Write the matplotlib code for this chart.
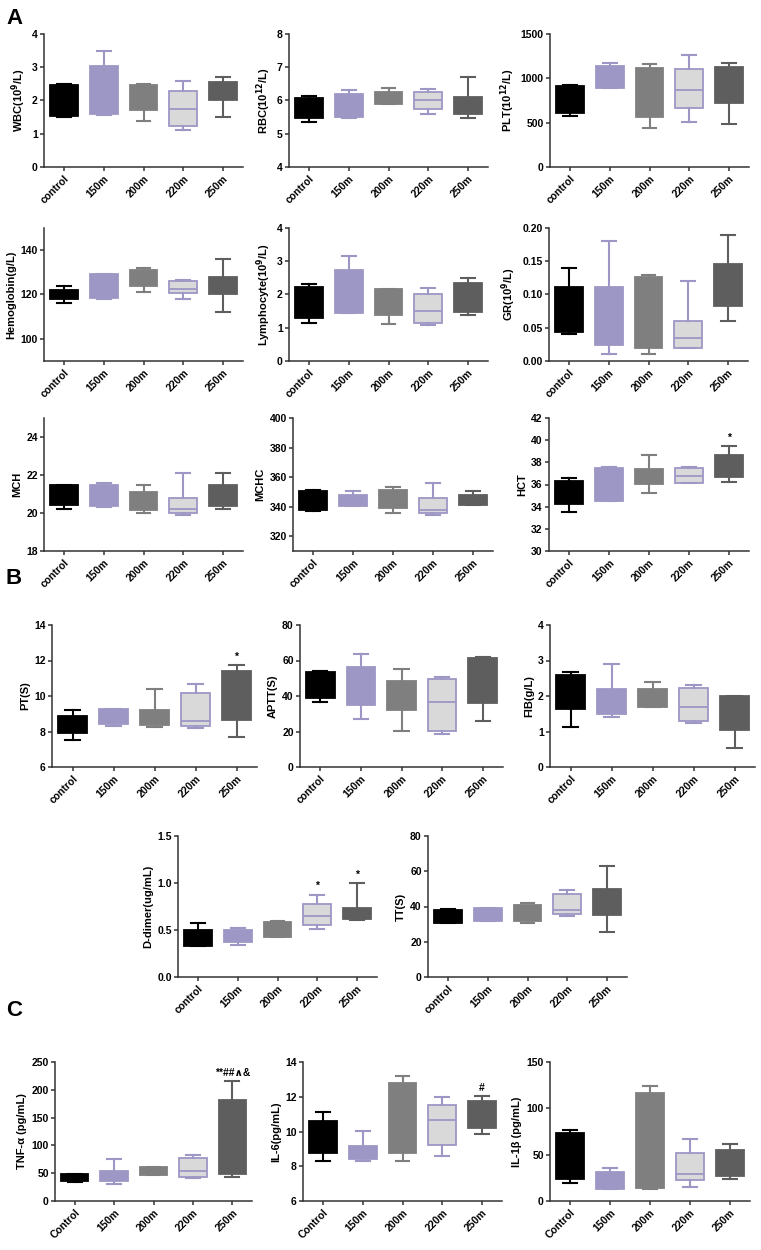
import matplotlib
matplotlib.use("Agg")
import matplotlib.pyplot as plt
from matplotlib.ticker import FormatStrFormatter

plt.rcParams['font.family'] = ['Liberation Sans', 'DejaVu Sans']
plt.rcParams['font.weight'] = 'bold'

groups = ['control', '150m', '200m', '220m', '250m']
groups_c = ['Control', '150m', '200m', '220m', '250m']

# (min, q1, median, q3, max) per group
wbc = [(1.49, 1.53, 2.0, 2.47, 2.5), (1.57, 1.58, 2.2, 3.05, 3.5), (1.39, 1.72, 2.2, 2.48, 2.5),
       (1.1, 1.24, 1.73, 2.3, 2.6), (1.5, 2.02, 2.3, 2.57, 2.7)]
rbc = [(5.35, 5.46, 5.8, 6.08, 6.13), (5.48, 5.5, 5.9, 6.19, 6.31), (5.88, 5.9, 6.1, 6.25, 6.37),
       (5.58, 5.75, 6.03, 6.27, 6.35), (5.47, 5.6, 5.8, 6.12, 6.72)]
plt_ = [(577, 612, 750, 913, 925), (893, 895, 1000, 1135, 1178), (440, 564, 850, 1113, 1162),
        (511, 670, 864, 1105, 1260), (485, 718, 950, 1128, 1178)]
hgb = [(116, 118, 120, 122, 124), (117.8, 118.2, 122, 129.2, 129.3), (121, 123.8, 127, 131, 132),
       (118, 120.8, 122.7, 126.2, 126.5), (112, 120.2, 124, 127.7, 136)]
lym = [(1.15, 1.28, 1.8, 2.23, 2.31), (1.43, 1.45, 2.0, 2.75, 3.17), (1.1, 1.38, 1.8, 2.16, 2.18),
       (1.07, 1.14, 1.5, 2.02, 2.21), (1.38, 1.47, 1.9, 2.35, 2.5)]
gr = [(0.04, 0.044, 0.08, 0.111, 0.14), (0.01, 0.024, 0.06, 0.111, 0.18), (0.01, 0.02, 0.07, 0.126, 0.13),
      (0.02, 0.02, 0.035, 0.06, 0.12), (0.06, 0.082, 0.11, 0.146, 0.19)]
mch = [(20.2, 20.41, 21.0, 21.47, 21.5), (20.3, 20.35, 21.0, 21.5, 21.6), (20.0, 20.18, 20.7, 21.1, 21.47),
       (19.9, 20.02, 20.2, 20.8, 22.1), (20.2, 20.37, 21.0, 21.47, 22.1)]
mchc = [(336.9, 337.8, 344, 350.6, 351.3), (340.5, 340.7, 344, 348.1, 350.3), (335.5, 338.9, 345, 351.3, 353.5),
        (334.4, 335.7, 338, 346.1, 356.2), (341, 341.1, 345, 348.1, 350.3)]
hct = [(33.5, 34.25, 35.5, 36.36, 36.57), (34.5, 34.55, 36, 37.48, 37.6), (35.25, 36.03, 36.6, 37.36, 38.7),
       (36.1, 36.13, 36.8, 37.45, 37.55), (36.2, 36.64, 37.5, 38.66, 39.5)]
pt = [(7.5, 7.9, 8.3, 8.85, 9.22), (8.3, 8.42, 8.8, 9.25, 9.25), (8.27, 8.36, 8.7, 9.23, 10.4),
      (8.2, 8.32, 8.6, 10.15, 10.7), (7.7, 8.66, 10.0, 11.43, 11.72)]
aptt = [(36.6, 38.8, 47, 53.8, 54.3), (27.3, 35, 46, 56.6, 63.8), (20.5, 32, 40, 48.7, 55),
        (18.7, 20.4, 36.4, 49.6, 50.8), (25.8, 36.2, 50, 61.3, 61.7)]
fib = [(1.12, 1.62, 2.1, 2.6, 2.68), (1.42, 1.49, 1.8, 2.2, 2.9), (1.68, 1.69, 2.0, 2.2, 2.4),
       (1.25, 1.3, 1.7, 2.23, 2.3), (0.53, 1.04, 1.5, 1.99, 2.0)]
ddimer = [(0.325, 0.335, 0.42, 0.5, 0.57), (0.34, 0.37, 0.45, 0.505, 0.52), (0.43, 0.43, 0.5, 0.585, 0.595),
          (0.515, 0.555, 0.645, 0.78, 0.87), (0.61, 0.615, 0.67, 0.735, 1.0)]
tt = [(30.6, 30.9, 34, 38.1, 38.5), (31.8, 31.9, 35, 38.9, 39.3), (30.9, 31.5, 36, 40.9, 42),
      (34.5, 35.8, 37.9, 47.2, 49.2), (25.3, 34.9, 42, 50, 62.8)]
tnf = [(35, 35.3, 42, 48.2, 48.8), (30.5, 35.9, 45, 54.8, 75.4), (46, 46.4, 55, 61.9, 62),
       (41.3, 43.7, 54.5, 76.6, 82.5), (43.7, 47.8, 110, 181, 216.5)]
il6 = [(8.28, 8.74, 9.6, 10.6, 11.1), (8.28, 8.42, 8.7, 9.17, 10.05), (8.28, 8.75, 10.5, 12.8, 13.2),
       (8.57, 9.24, 10.67, 11.55, 12.0), (9.85, 10.2, 11.0, 11.78, 12.04)]
il1b = [(19, 24, 50, 73.6, 76.4), (12.5, 12.6, 25, 31.2, 35.9), (12.9, 14, 60, 116.9, 124.1),
        (15, 22.2, 28.7, 51.7, 66.7), (23.3, 26.5, 40, 55, 62)]

face = ['#000000', '#9d97c6', '#7f7f7f', '#d9d9d9', '#5e5e5e']
edge = ['#000000', '#9d97c6', '#7f7f7f', '#9d97c6', '#5e5e5e']

fig = plt.figure(figsize=(7.61, 12.5), dpi=100)


def add_ax(l, t, r, b):
    return fig.add_axes([l / 761, 1 - b / 1250, (r - l) / 761, (b - t) / 1250])


def boxpanel(pos, data, ylabel, ylim, ticks, fmt, labels=groups, notes=None):
    ax = add_ax(*pos)
    for i, (lo, q1, med, q3, hi) in enumerate(data):
        st = [dict(whislo=lo, q1=q1, med=med, q3=q3, whishi=hi, fliers=[])]
        ax.bxp(st, positions=[i], widths=0.7, patch_artist=True, showfliers=False,
               capwidths=0.35,
               boxprops=dict(facecolor=face[i], edgecolor=edge[i], linewidth=1.3),
               medianprops=dict(color=edge[i], linewidth=1.3),
               whiskerprops=dict(color=edge[i], linewidth=1.5),
               capprops=dict(color=edge[i], linewidth=1.5))
    ax.set_xlim(-0.5, 4.5)
    ax.set_ylim(*ylim)
    ax.set_yticks(ticks)
    ax.yaxis.set_major_formatter(FormatStrFormatter(fmt))
    ax.set_xticks(range(5))
    ax.set_xticklabels(labels, rotation=45, ha='right', rotation_mode='anchor',
                       fontsize=7.5, fontweight='bold')
    for t in ax.get_yticklabels():
        t.set_fontsize(7.5)
        t.set_fontweight('bold')
    ax.set_ylabel(ylabel, fontsize=8, fontweight='bold', labelpad=3)
    for s in ['top', 'right']:
        ax.spines[s].set_visible(False)
    for s in ['left', 'bottom']:
        ax.spines[s].set_linewidth(1.1)
        ax.spines[s].set_color('#333333')
    ax.tick_params(direction='out', length=3, width=1.1, color='#333333', pad=1.5)
    if notes:
        for x, y, txt in notes:
            ax.text(x, y, txt, ha='center', va='center', fontsize=7.5, fontweight='bold')
    return ax


# panel A
boxpanel((44, 34, 243, 167), wbc, 'WBC(10$^{\\mathbf{9}}$/L)', (0, 4), [0, 1, 2, 3, 4], '%d')
boxpanel((289, 34, 488, 167), rbc, 'RBC(10$^{\\mathbf{12}}$/L)', (4, 8), [4, 5, 6, 7, 8], '%d')
boxpanel((550, 34, 749, 167), plt_, 'PLT(10$^{\\mathbf{12}}$/L)', (0, 1500), [0, 500, 1000, 1500], '%d')

boxpanel((44, 228, 243, 361), hgb, 'Hemoglobin(g/L)', (90, 150), [100, 120, 140], '%d')
boxpanel((289, 228, 488, 361), lym, 'Lymphocyte(10$^{\\mathbf{9}}$/L)', (0, 4), [0, 1, 2, 3, 4], '%d')
boxpanel((549, 228, 748, 361), gr, 'GR(10$^{\\mathbf{9}}$/L)', (0, 0.2), [0, 0.05, 0.1, 0.15, 0.2], '%.2f')

boxpanel((44, 418, 243, 551), mch, 'MCH', (18, 25), [18, 20, 22, 24], '%d')
boxpanel((293, 418, 493, 551), mchc, 'MCHC', (310, 400), [320, 340, 360, 380, 400], '%d')
boxpanel((549, 418, 749, 551), hct, 'HCT', (30, 42), [30, 32, 34, 36, 38, 40, 42], '%d',
         notes=[(4, 40.2, '*')])

# panel B
boxpanel((52, 625, 257, 767), pt, 'PT(S)', (6, 14), [6, 8, 10, 12, 14], '%d',
         notes=[(4, 12.2, '*')])
boxpanel((300, 625, 503, 767), aptt, 'APTT(S)', (0, 80), [0, 20, 40, 60, 80], '%d')
boxpanel((550, 625, 755, 767), fib, 'FIB(g/L)', (0, 4), [0, 1, 2, 3, 4], '%d')

boxpanel((178, 836, 377, 977), ddimer, 'D-dimer(ug/mL)', (0, 1.5), [0, 0.5, 1.0, 1.5], '%.1f',
         notes=[(3, 0.97, '*'), (4, 1.09, '*')])
boxpanel((428, 836, 627, 977), tt, 'TT(S)', (0, 80), [0, 20, 40, 60, 80], '%d')

# panel C
boxpanel((55, 1062, 252, 1201), tnf, 'TNF-α (pg/mL)', (0, 250), [0, 50, 100, 150, 200, 250], '%d',
         labels=groups_c, notes=[(4, 231, '**##\u2227&')])
boxpanel((303, 1062, 502, 1201), il6, 'IL-6(pg/mL)', (6, 14), [6, 8, 10, 12, 14], '%d',
         labels=groups_c, notes=[(4, 12.5, '#')])
boxpanel((550, 1062, 750, 1201), il1b, 'IL-1β (pg/mL)', (0, 150), [0, 50, 100, 150], '%d',
         labels=groups_c)

for letter, y in [('A', 8), ('B', 568), ('C', 1000)]:
    fig.text(6 / 761, 1 - y / 1250, letter, fontsize=16, fontweight='bold', va='top', ha='left')

fig.savefig('out.png', dpi=100)
